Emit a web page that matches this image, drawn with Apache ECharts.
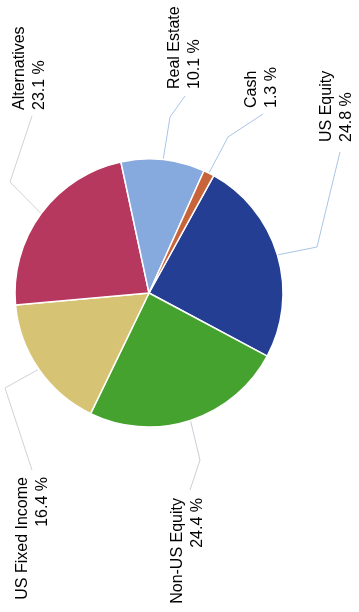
<!DOCTYPE html>
<html>
<head>
<meta charset="utf-8">
<style>
  html, body { margin: 0; padding: 0; background: #fff; }
  #chart { width: 359px; height: 612px; }
</style>
<script src="https://cdn.jsdelivr.net/npm/echarts@6/dist/echarts.min.js"></script>
</head>
<body>
<div id="chart"></div>
<script>
// Asset allocation data
const categories = ['US Equity', 'Non-US Equity', 'US Fixed Income', 'Alternatives', 'Real Estate', 'Cash'];
const shares = [24.8, 24.4, 16.4, 23.1, 10.1, 1.3];
const sliceColors = ['#233e93', '#46a22f', '#d7c374', '#b6385e', '#86a9de', '#c8643a'];

// Vertical label placement: anchor, alignment and leader-line elbow for each slice
const labelPlacement = [
  { x: 337, y: 142, align: 'left',  bend: [317, 247], end: [340, 152], line: '#a9c6e6' },
  { x: 188, y: 498, align: 'right', bend: [200, 460], end: [190, 490], line: '#c9ced6' },
  { x: 33,  y: 477, align: 'right', bend: [5, 388],   end: [32, 470],  line: '#cfd2d6' },
  { x: 30,  y: 110, align: 'left',  bend: [10, 182],  end: [32, 116],  line: '#cfd2d6' },
  { x: 185, y: 89,  align: 'left',  bend: [170, 117], end: [185, 96],  line: '#a9c6e6' },
  { x: 262, y: 108, align: 'left',  bend: [228, 137], end: [263, 114], line: '#a9c6e6' }
];

const chart = echarts.init(document.getElementById('chart'), null, { renderer: 'canvas' });

chart.setOption({
  animation: false,
  backgroundColor: '#ffffff',
  series: [{
    type: 'pie',
    center: [149, 293],
    radius: 134,
    startAngle: 61.1,
    clockwise: true,
    avoidLabelOverlap: false,
    itemStyle: { borderColor: '#ffffff', borderWidth: 1.5 },
    label: {
      show: true,
      position: 'outside',
      formatter: '{b}\n{c} %',
      fontFamily: '"Liberation Sans", Arial, sans-serif',
      fontSize: 16,
      lineHeight: 20,
      color: '#000000'
    },
    labelLine: { show: true, length: 10, length2: 10, lineStyle: { width: 1 } },
    labelLayout: function (params) {
      const p = labelPlacement[params.dataIndex];
      const start = params.labelLinePoints ? params.labelLinePoints[0] : p.bend;
      return {
        x: p.x,
        y: p.y,
        rotate: 90,
        align: p.align,
        verticalAlign: 'middle',
        labelLinePoints: [start, p.bend, p.end]
      };
    },
    data: categories.map(function (name, i) {
      return {
        name: name,
        value: shares[i],
        itemStyle: { color: sliceColors[i] },
        labelLine: { lineStyle: { color: labelPlacement[i].line, width: 1 } }
      };
    })
  }]
});
</script>
</body>
</html>
